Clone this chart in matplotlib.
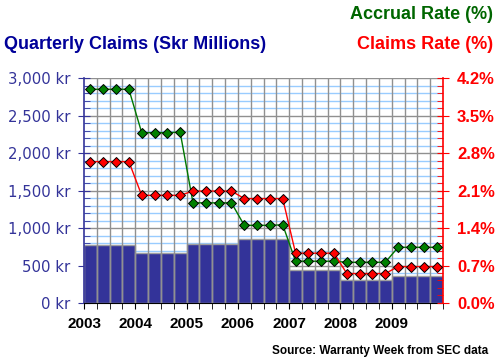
import matplotlib
matplotlib.use("Agg")
import matplotlib.pyplot as plt
import numpy as np
from matplotlib.ticker import FuncFormatter, MultipleLocator

years = [2003, 2004, 2005, 2006, 2007, 2008, 2009]

# quarterly claims, Skr millions (4 quarters per year)
claims = [770, 770, 770, 770,
          670, 670, 670, 670,
          790, 790, 790, 790,
          860, 860, 860, 860,
          440, 440, 440, 440,
          300, 300, 300, 300,
          355, 355, 355, 355]

accrual_rate = [3.99, 3.99, 3.99, 3.99,
                3.18, 3.18, 3.18, 3.19,
                1.87, 1.87, 1.87, 1.87,
                1.45, 1.45, 1.45, 1.46,
                0.78, 0.78, 0.78, 0.78,
                0.76, 0.76, 0.76, 0.76,
                1.04, 1.04, 1.04, 1.04]

claims_rate = [2.64, 2.64, 2.64, 2.64,
               2.01, 2.01, 2.01, 2.01,
               2.09, 2.09, 2.09, 2.09,
               1.95, 1.95, 1.95, 1.95,
               0.93, 0.93, 0.93, 0.93,
               0.55, 0.55, 0.55, 0.55,
               0.68, 0.68, 0.68, 0.68]

navy = "#333399"
font = "Liberation Sans"

fig = plt.figure(figsize=(5, 3.64), dpi=100)
ax = fig.add_axes([0.168, 0.1676, 0.718, 0.618])
ax2 = ax.twinx()

n = len(claims)
x = np.arange(n)
ax.bar(x + 0.5, claims, width=1.0, color=navy, edgecolor="#a0a0a0",
       linewidth=1.0, zorder=2)

ax.set_xlim(0, n)
ax.set_ylim(0, 3000)
ax2.set_ylim(0, 4.2)

# horizontal grid sits behind the bars, vertical quarter lines on top
ax.yaxis.set_major_locator(MultipleLocator(500))
ax.yaxis.set_minor_locator(MultipleLocator(100))
ax.xaxis.set_minor_locator(MultipleLocator(1))
ax.set_axisbelow(True)
ax.grid(which="minor", axis="y", color="#99ccff", linewidth=1.0)
ax.grid(which="major", axis="y", color="#909090", linewidth=1.0)
ax.vlines(np.arange(1, n), 0, 3000, color="#909090", linewidth=1.0, zorder=3)

ax.yaxis.set_major_formatter(FuncFormatter(lambda v, p: f"{int(v):,} kr"))
ax.set_xticks(np.arange(0, n, 4))
ax.set_xticklabels([str(y) for y in years])
for lab in ax.get_xticklabels():
    lab.set_fontfamily(font)
    lab.set_fontweight("bold")
    lab.set_fontsize(11)
for lab in ax.get_yticklabels():
    lab.set_fontfamily("DejaVu Sans")
    lab.set_fontsize(10.7)
    lab.set_color(navy)

ax.tick_params(axis="x", which="both", direction="out", length=4,
               color="black", pad=6)
ax.tick_params(axis="y", which="major", direction="inout", length=8,
               color=navy, pad=6)
ax.tick_params(axis="y", which="minor", direction="in", length=4, color=navy)

ax2.yaxis.set_major_locator(MultipleLocator(0.7))
ax2.yaxis.set_minor_locator(MultipleLocator(0.14))
ax2.yaxis.set_major_formatter(FuncFormatter(lambda v, p: f"{v:.1f}%"))
ax2.tick_params(axis="y", which="major", direction="inout", length=8,
                color="red", pad=6)
ax2.tick_params(axis="y", which="minor", direction="in", length=4, color="red")
for lab in ax2.get_yticklabels():
    lab.set_fontfamily(font)
    lab.set_fontweight("bold")
    lab.set_fontsize(12)
    lab.set_color("red")

for a in (ax, ax2):
    a.spines["top"].set_visible(False)
ax.spines["left"].set_color(navy)
ax.spines["bottom"].set_color("black")
ax2.spines["right"].set_color("red")
ax2.spines["left"].set_visible(False)
ax2.spines["bottom"].set_visible(False)
ax.spines["right"].set_visible(False)
ax2.spines["right"].set_linewidth(1.2)
ax.spines["left"].set_linewidth(1.2)

ax2.plot(x + 0.5, accrual_rate, color="#007700", linewidth=1.0,
         marker="D", markersize=5, markerfacecolor="#008000",
         markeredgecolor="black", markeredgewidth=0.7, zorder=5)
ax2.plot(x + 0.5, claims_rate, color="red", linewidth=1.0,
         marker="D", markersize=5, markerfacecolor="red",
         markeredgecolor="black", markeredgewidth=0.7, zorder=5)

fig.text(0.986, 0.961, "Accrual Rate (%)", ha="right", va="center",
         color="#006600", fontsize=13, fontweight="bold", family=font)
fig.text(0.986, 0.879, "Claims Rate (%)", ha="right", va="center",
         color="red", fontsize=13, fontweight="bold", family=font)
fig.text(0.008, 0.879, "Quarterly Claims (Skr Millions)", ha="left",
         va="center", color="#000099", fontsize=13, fontweight="bold",
         family=font)
fig.text(0.976, 0.035, "Source: Warranty Week from SEC data", ha="right",
         va="center", color="black", fontsize=8.5, fontweight="bold",
         family=font)

fig.savefig("out.png", dpi=100)
